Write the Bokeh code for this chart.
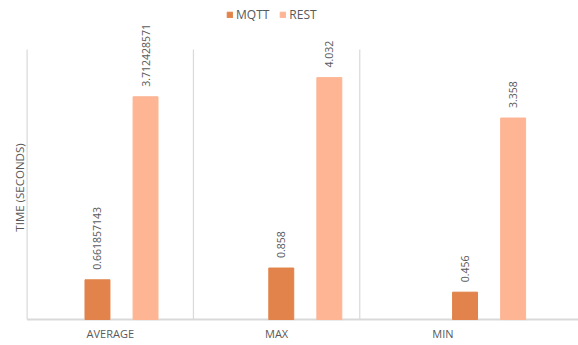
import numpy as np
from bokeh.plotting import figure
from bokeh.models import (ColumnDataSource, Range1d, Legend, LegendItem)
from bokeh.core.properties import value
from bokeh.embed import file_html
from bokeh.resources import INLINE

# Response-time statistics (seconds)
categories = ["AVERAGE", "MAX", "MIN"]
mqtt = [0.661857143, 0.858, 0.456]
rest = [3.712428571, 4.032, 3.358]

FONT = "Open Sans"
TEXT_COLOR = "#595959"
GRID_COLOR = "#d9d9d9"
MQTT_COLOR = "#E1834A"
REST_COLOR = "#FDB594"

# Layout: category slots are one unit wide; bar groups repeat on a slightly wider step
GROUP_STEP = 1.105
MQTT_OFFSET = 0.423
REST_OFFSET = 0.712
BAR_WIDTH = 0.15
X_START = -0.16         # room on the left for the axis title
X_END = 3.315
Y_START = -0.433        # room below the baseline for category names
AXIS_TOP = 4.5          # top of the value axis (dividers stop here)
Y_END = 5.317           # headroom above the axis for legend and labels

idx = np.arange(len(categories))
mqtt_src = ColumnDataSource(dict(x=idx * GROUP_STEP + MQTT_OFFSET, top=mqtt,
                                 label=[str(v) for v in mqtt]))
rest_src = ColumnDataSource(dict(x=idx * GROUP_STEP + REST_OFFSET, top=rest,
                                 label=[str(v) for v in rest]))
cat_src = ColumnDataSource(dict(x=idx + 0.5, y=np.zeros(len(categories)), name=categories))

p = figure(width=578, height=345, output_backend="svg", toolbar_location=None,
           x_range=Range1d(X_START, X_END), y_range=Range1d(Y_START, Y_END),
           min_border=0)
p.outline_line_color = None
p.background_fill_color = "white"
p.border_fill_color = "white"
p.axis.visible = False
p.grid.visible = False

# slot dividers and baseline
p.segment(x0=idx.astype(float), y0=0, x1=idx.astype(float), y1=AXIS_TOP,
          line_color=GRID_COLOR, line_width=1.2)
p.segment(x0=[0.0], y0=[0.0], x1=[X_END], y1=[0.0],
          line_color=GRID_COLOR, line_width=2)

r1 = p.vbar(x="x", top="top", width=BAR_WIDTH, source=mqtt_src,
            fill_color=MQTT_COLOR, line_color=MQTT_COLOR)
r2 = p.vbar(x="x", top="top", width=BAR_WIDTH, source=rest_src,
            fill_color=REST_COLOR, line_color=REST_COLOR)

# value labels above the bars
for src in (mqtt_src, rest_src):
    p.text(x="x", y="top", text="label", source=src, angle=np.pi / 2,
           text_align="left", text_baseline="middle", y_offset=-10,
           text_font=value(FONT), text_font_size="10.5px", text_color=TEXT_COLOR)

# category names under the baseline
p.text(x="x", y="y", text="name", source=cat_src, y_offset=14,
       text_align="center", text_baseline="middle",
       text_font=value(FONT), text_font_size="11px", text_color=TEXT_COLOR)

# value-axis title
p.text(x=[0.0], y=[AXIS_TOP / 2], text=["TIME (SECONDS)"], angle=np.pi / 2,
       x_offset=-8, y_offset=3, text_align="center", text_baseline="middle",
       text_font=value(FONT), text_font_size="11.5px", text_color=TEXT_COLOR)

legend = Legend(items=[LegendItem(label="MQTT", renderers=[r1]),
                       LegendItem(label="REST", renderers=[r2])],
                orientation="horizontal", location=(226, 322),
                glyph_width=7, glyph_height=7, label_standoff=3, spacing=10,
                padding=0, margin=0, border_line_color=None,
                background_fill_alpha=0,
                label_text_font=FONT, label_text_font_size="12px",
                label_text_color=TEXT_COLOR)
p.add_layout(legend)

open("out.html", "w").write(file_html(p, INLINE))
